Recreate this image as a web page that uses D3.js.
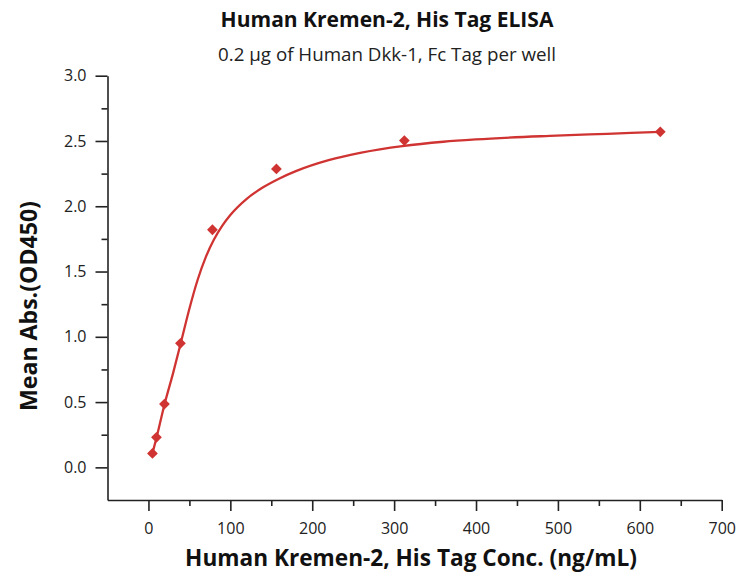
<!DOCTYPE html>
<html>
<head>
<meta charset="utf-8">
<script src="https://cdn.jsdelivr.net/npm/d3@7/dist/d3.min.js"></script>
<style>
  body { margin: 0; background: #fff; }
  text { font-family: "Open Sans", "Noto Sans", sans-serif; }
</style>
</head>
<body>
<svg id="chart" width="740" height="575"></svg>
<script>
// ---- data ----
const concentrations = [4.88, 9.77, 19.53, 39.06, 78.13, 156.25, 312.5, 625];
const meanAbs = [0.107, 0.23, 0.485, 0.95, 1.82, 2.286, 2.503, 2.57];
const fitX = [4.88, 9.77, 19.5, 30, 39, 50, 60, 70, 80, 90, 100, 120, 140, 160, 180, 220, 260, 310, 360, 400, 490, 560, 625];
const fitY = [0.107, 0.225, 0.48, 0.72, 0.94, 1.215, 1.435, 1.61, 1.745, 1.85, 1.933, 2.057, 2.145, 2.213, 2.269, 2.353, 2.411, 2.461, 2.494, 2.512, 2.539, 2.555, 2.57];
const xMajorTicks = [0, 100, 200, 300, 400, 500, 600, 700];
const xMinorTicks = [50, 150, 250, 350, 450, 550, 650];
const yMajorTicks = [0, 0.5, 1.0, 1.5, 2.0, 2.5, 3.0];
const yMinorTicks = [0.25, 0.75, 1.25, 1.75, 2.25, 2.75];
const titleText = "Human Kremen-2, His Tag ELISA";
const subtitleText = "0.2 \u00b5g of Human Dkk-1, Fc Tag per well";
const xLabel = "Human Kremen-2, His Tag Conc. (ng/mL)";
const yLabel = "Mean Abs.(OD450)";

const svg = d3.select("#chart");
const red = "#cf3432";
const axisColor = "#222";

const x = d3.scaleLinear().domain([-50, 700]).range([107.5, 721.7]);
const y = d3.scaleLinear().domain([-0.25, 3.0]).range([500, 75.7]);

function fit(sel, target) {
  const w = sel.node().getComputedTextLength();
  const fs = parseFloat(sel.attr("font-size"));
  sel.attr("font-size", (fs * target / w).toFixed(2));
}

// x axis
const gx = svg.append("g").attr("transform", `translate(0,${y(-0.25)})`);
gx.call(d3.axisBottom(x).tickValues(xMajorTicks).tickSize(11).tickSizeOuter(0).tickPadding(12).tickFormat(d3.format("d")));
const gxm = svg.append("g").attr("transform", `translate(0,${y(-0.25)})`);
gxm.call(d3.axisBottom(x).tickValues(xMinorTicks).tickSize(6).tickFormat(""));
gxm.select(".domain").remove();

// y axis
const gy = svg.append("g").attr("transform", `translate(${x(-50)},0)`);
gy.call(d3.axisLeft(y).tickValues(yMajorTicks).tickSize(12).tickSizeOuter(0).tickPadding(9).tickFormat(d3.format(".1f")));
const gym = svg.append("g").attr("transform", `translate(${x(-50)},0)`);
gym.call(d3.axisLeft(y).tickValues(yMinorTicks).tickSize(6).tickFormat(""));
gym.select(".domain").remove();

svg.selectAll(".domain, .tick line").attr("stroke", axisColor).attr("stroke-width", 1.6);
svg.selectAll(".tick text").attr("font-family", "Open Sans").attr("font-size", 16).attr("fill", "#222");

// fitted curve
const line = d3.line().x((d, i) => x(fitX[i])).y((d, i) => y(fitY[i])).curve(d3.curveMonotoneX);
svg.append("path").datum(fitX).attr("d", line)
  .attr("fill", "none").attr("stroke", red).attr("stroke-width", 2.3);

// points
svg.append("g").selectAll("path").data(concentrations).join("path")
  .attr("d", d3.symbol().type(d3.symbolSquare).size(58))
  .attr("transform", (d, i) => `translate(${x(d)},${y(meanAbs[i])}) rotate(45)`)
  .attr("fill", red);

// titles
const t = svg.append("text").attr("x", 387).attr("y", 27).attr("text-anchor", "middle")
  .attr("font-weight", "bold").attr("font-size", 18).attr("fill", "#111").text(titleText);
fit(t, 333);
const st = svg.append("text").attr("x", 387).attr("y", 61).attr("text-anchor", "middle")
  .attr("font-size", 16).attr("fill", "#222").text(subtitleText);
fit(st, 338);
const xt = svg.append("text").attr("x", 411).attr("y", 566).attr("text-anchor", "middle")
  .attr("font-weight", "bold").attr("font-size", 20).attr("fill", "#111").text(xLabel);
fit(xt, 452);
const yt = svg.append("text").attr("transform", "translate(37,306) rotate(-90)").attr("text-anchor", "middle")
  .attr("font-weight", "bold").attr("font-size", 20).attr("fill", "#111").text(yLabel);
fit(yt, 210);
</script>
</body>
</html>
